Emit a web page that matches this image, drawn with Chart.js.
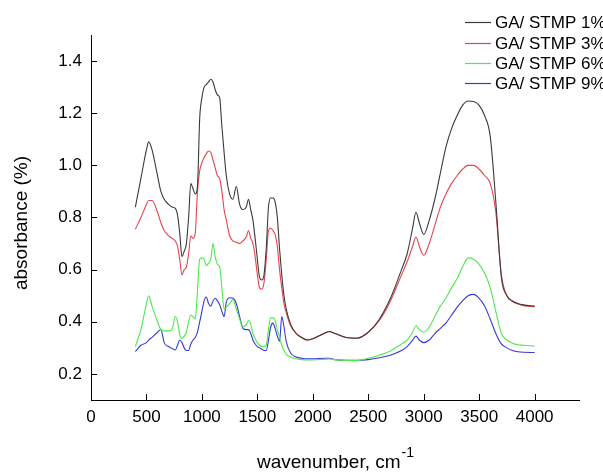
<!DOCTYPE html>
<html>
<head>
<meta charset="utf-8">
<script src="https://cdn.jsdelivr.net/npm/chart.js@4/dist/chart.umd.min.js"></script>
<style>
html,body{margin:0;padding:0;background:#fff;}
#wrap{width:603px;height:472px;position:relative;}
</style>
</head>
<body>
<div id="wrap"><canvas id="c" width="603" height="472"></canvas></div>
<script>
const wavenumber = [400,450,500,520,550,600,630,660,700,730,760,780,800,820,840,860,880,900,920,940,960,980,1000,1020,1040,1060,1080,1100,1120,1140,1160,1180,1200,1220,1250,1280,1310,1340,1370,1400,1420,1440,1460,1480,1500,1520,1540,1560,1580,1600,1620,1640,1660,1680,1700,1720,1740,1760,1800,1850,1900,1950,2000,2100,2150,2200,2300,2400,2500,2600,2700,2800,2850,2900,2930,2960,3000,3050,3100,3150,3200,3250,3300,3350,3400,3450,3500,3550,3600,3650,3700,3750,3800,3850,3900,4000];

const stmp1 = [0.84,0.95,1.06,1.09,1.06,0.96,0.90,0.87,0.85,0.84,0.835,0.81,0.74,0.65,0.67,0.70,0.80,0.93,0.91,0.89,0.92,1.18,1.26,1.30,1.31,1.32,1.33,1.32,1.29,1.27,1.26,1.15,1.05,0.96,0.89,0.87,0.92,0.85,0.83,0.84,0.87,0.83,0.79,0.72,0.64,0.57,0.56,0.58,0.68,0.84,0.875,0.875,0.86,0.80,0.68,0.58,0.50,0.45,0.39,0.355,0.34,0.33,0.335,0.355,0.363,0.355,0.34,0.337,0.36,0.41,0.49,0.60,0.66,0.76,0.82,0.78,0.735,0.79,0.87,0.97,1.07,1.14,1.19,1.23,1.247,1.245,1.23,1.19,1.11,0.86,0.57,0.50,0.48,0.47,0.465,0.46];

const stmp3 = [0.755,0.80,0.85,0.865,0.865,0.82,0.78,0.75,0.73,0.72,0.71,0.69,0.64,0.58,0.60,0.61,0.66,0.73,0.72,0.74,0.90,0.98,1.01,1.03,1.045,1.055,1.05,1.02,0.99,0.96,0.95,0.90,0.83,0.79,0.73,0.71,0.705,0.70,0.71,0.725,0.75,0.72,0.70,0.65,0.58,0.53,0.525,0.55,0.64,0.75,0.76,0.75,0.735,0.69,0.60,0.53,0.47,0.435,0.385,0.355,0.34,0.33,0.335,0.355,0.362,0.355,0.34,0.338,0.36,0.405,0.48,0.58,0.63,0.69,0.725,0.69,0.655,0.70,0.77,0.84,0.89,0.93,0.96,0.985,1.0,1.0,0.985,0.96,0.93,0.82,0.58,0.50,0.478,0.468,0.462,0.458];

const stmp6 = [0.305,0.37,0.47,0.50,0.46,0.40,0.37,0.365,0.365,0.37,0.42,0.40,0.35,0.335,0.345,0.36,0.40,0.425,0.42,0.41,0.52,0.64,0.645,0.64,0.615,0.625,0.64,0.70,0.65,0.62,0.61,0.53,0.45,0.455,0.47,0.485,0.45,0.41,0.38,0.39,0.405,0.39,0.355,0.335,0.32,0.31,0.305,0.305,0.31,0.37,0.415,0.415,0.405,0.37,0.34,0.31,0.29,0.275,0.265,0.258,0.255,0.254,0.254,0.256,0.257,0.255,0.252,0.251,0.26,0.272,0.288,0.315,0.33,0.36,0.385,0.37,0.36,0.38,0.42,0.46,0.49,0.53,0.565,0.61,0.645,0.64,0.62,0.585,0.53,0.44,0.355,0.33,0.318,0.312,0.31,0.307];

const stmp9 = [0.286,0.31,0.32,0.33,0.34,0.36,0.37,0.32,0.305,0.298,0.292,0.31,0.33,0.32,0.30,0.29,0.29,0.315,0.33,0.34,0.36,0.40,0.44,0.48,0.495,0.47,0.46,0.48,0.49,0.48,0.465,0.44,0.42,0.475,0.492,0.49,0.47,0.42,0.375,0.37,0.37,0.355,0.33,0.315,0.305,0.30,0.295,0.29,0.29,0.33,0.38,0.395,0.375,0.345,0.325,0.42,0.38,0.325,0.28,0.265,0.26,0.258,0.258,0.26,0.26,0.255,0.252,0.252,0.255,0.262,0.272,0.29,0.305,0.33,0.345,0.33,0.32,0.33,0.355,0.375,0.395,0.425,0.455,0.48,0.50,0.505,0.49,0.46,0.41,0.355,0.315,0.30,0.29,0.285,0.283,0.282];

const seriesLabels = ['GA/ STMP 1%','GA/ STMP 3%','GA/ STMP 6%','GA/ STMP 9%'];
const seriesColors = ['#3a3a3a','#e8434a','#4ee84e','#3838d8'];
const seriesValues = [stmp1, stmp3, stmp6, stmp9];

const xTicks = [0,500,1000,1500,2000,2500,3000,3500,4000];
const yTicks = [0.2,0.4,0.6,0.8,1.0,1.2,1.4];

const FONT = '"Liberation Sans", Arial, sans-serif';

const datasets = seriesValues.map((vals, i) => ({
  label: seriesLabels[i],
  data: wavenumber.map((w, k) => ({x: w, y: vals[k]})),
  borderColor: seriesColors[i],
  borderWidth: 1.1,
  pointRadius: 0,
  fill: false,
  cubicInterpolationMode: 'monotone'
}));

const decor = {
  id: 'decor',
  afterDraw(chart) {
    const ctx = chart.ctx;
    const xs = chart.scales.x, ys = chart.scales.y;
    const a = chart.chartArea;
    ctx.save();
    ctx.strokeStyle = '#000';
    ctx.lineWidth = 1;
    xTicks.forEach(v => {
      const px = Math.round(xs.getPixelForValue(v)) + 0.5;
      ctx.beginPath(); ctx.moveTo(px, a.bottom); ctx.lineTo(px, a.bottom - 6); ctx.stroke();
    });
    yTicks.forEach(v => {
      const py = Math.round(ys.getPixelForValue(v)) + 0.5;
      ctx.beginPath(); ctx.moveTo(a.left, py); ctx.lineTo(a.left + 6, py); ctx.stroke();
    });
    // x title with superscript
    ctx.fillStyle = '#000';
    const main = 'wavenumber, cm';
    ctx.font = '19px ' + FONT;
    const w1 = ctx.measureText(main).width;
    ctx.font = '14px ' + FONT;
    const w2 = ctx.measureText('-1').width;
    const cx = (a.left + a.right) / 2;
    const start = cx - (w1 + w2) / 2;
    ctx.textBaseline = 'alphabetic';
    ctx.textAlign = 'left';
    ctx.font = '19px ' + FONT;
    ctx.fillText(main, start, 468);
    ctx.font = '14px ' + FONT;
    ctx.fillText('-1', start + w1 + 1, 457);
    // y title
    ctx.save();
    ctx.translate(22, 223);
    ctx.rotate(-Math.PI / 2);
    ctx.textAlign = 'center';
    ctx.textBaseline = 'middle';
    ctx.font = '19px ' + FONT;
    ctx.fillText('absorbance (%)', 0, 0);
    ctx.restore();
    // legend
    const rows = [22, 43, 63, 83];
    chart.data.datasets.forEach((ds, i) => {
      const y = rows[i] + 0.5;
      ctx.strokeStyle = ds.borderColor;
      ctx.lineWidth = 1.2;
      ctx.beginPath(); ctx.moveTo(465, y); ctx.lineTo(491, y); ctx.stroke();
      ctx.fillStyle = '#000';
      ctx.font = '17px ' + FONT;
      ctx.textAlign = 'left';
      ctx.textBaseline = 'middle';
      ctx.fillText(ds.label, 495, rows[i] + 1);
    });
    ctx.restore();
  }
};

new Chart(document.getElementById('c'), {
  type: 'line',
  data: { datasets },
  options: {
    responsive: false,
    animation: false,
    devicePixelRatio: 1,
    layout: { padding: { top: 35, right: 24, left: 0, bottom: 0 } },
    plugins: { legend: { display: false }, tooltip: { enabled: false } },
    scales: {
      x: {
        type: 'linear',
        min: 0, max: 4400,
        afterBuildTicks(s) { s.ticks = xTicks.map(v => ({value: v})); },
        afterFit(s) { s.height = 72; },
        grid: { display: false, drawTicks: false },
        border: { display: true, color: '#000', width: 1 },
        ticks: { color: '#000', font: { family: FONT, size: 17 }, padding: 7, maxRotation: 0,
                 callback: v => String(v) }
      },
      y: {
        type: 'linear',
        min: 0.1, max: 1.5,
        afterBuildTicks(s) { s.ticks = yTicks.map(v => ({value: v})); },
        afterFit(s) { s.width = 91; },
        grid: { display: false, drawTicks: false },
        border: { display: true, color: '#000', width: 1 },
        ticks: { color: '#000', font: { family: FONT, size: 17 }, padding: 9,
                 callback: v => Number(v).toFixed(1) }
      }
    }
  },
  plugins: [decor]
});
</script>
</body>
</html>
